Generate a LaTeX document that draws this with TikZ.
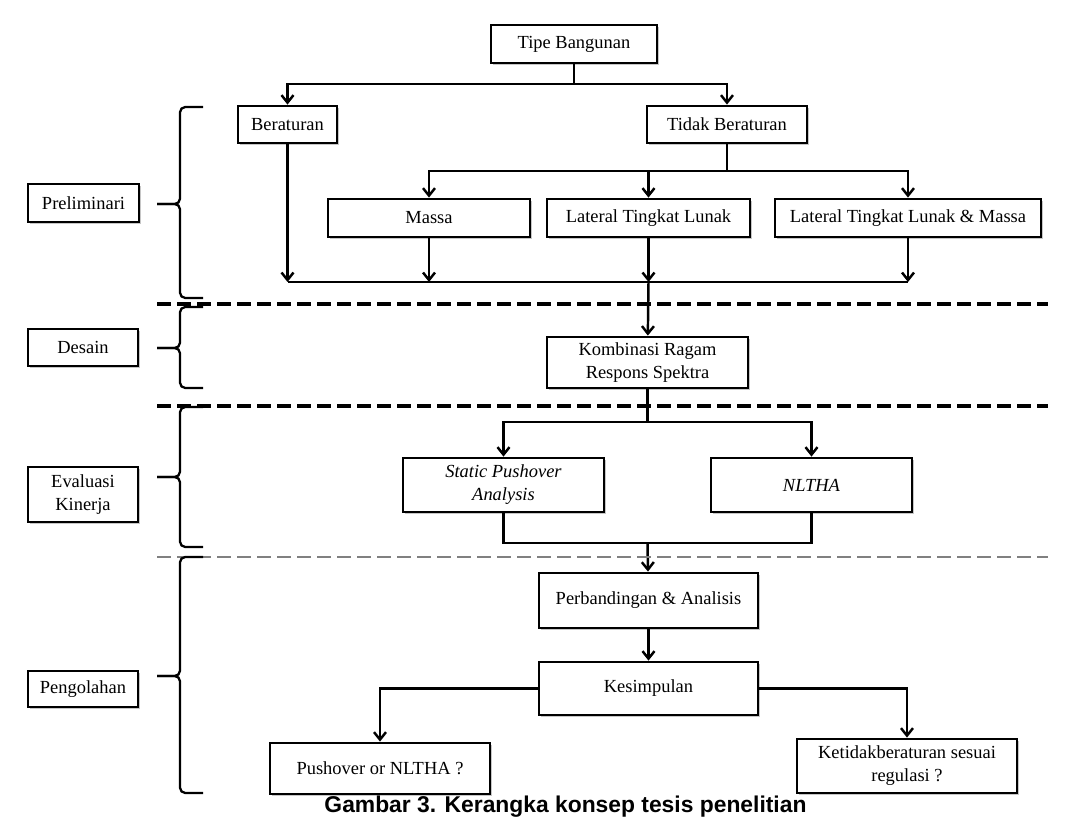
\documentclass[tikz,border=0pt]{standalone}
\usepackage{fontspec}
\setmainfont{Liberation Serif}
\newfontfamily\judulfont{Liberation Sans}
\usetikzlibrary{arrows.meta,shadows}

\begin{document}
\begin{tikzpicture}[
    kotak/.style={rectangle, draw=black, line width=1.6pt, fill=white, align=center,
      font=\fontsize{10.5}{13}\selectfont, inner sep=2pt,
      drop shadow={shadow xshift=1pt, shadow yshift=-1pt, opacity=0.45}},
    panah/.style={-{Straight Barb[length=1.5mm,width=2.4mm]}, line width=1.4pt},
    garis/.style={line width=1.4pt},
    batas/.style={line width=2pt, dash pattern=on 0.27cm off 0.13cm},
    kurung/.style={line width=1.3pt, rounded corners=3pt},
  ]
  \useasboundingbox (0,0) rectangle (21.56,16.36);

  % tahapan (kiri)
  \node[kotak, minimum width=2.22cm, minimum height=0.76cm] (prelim)   at (1.67,12.30) {Preliminari};
  \node[kotak, minimum width=2.20cm, minimum height=0.74cm] (desain)   at (1.66,9.41)  {Desain};
  \node[kotak, minimum width=2.20cm, minimum height=1.10cm] (evaluasi) at (1.66,6.47)  {Evaluasi\\Kinerja};
  \node[kotak, minimum width=2.20cm, minimum height=0.72cm] (olah)     at (1.66,2.58)  {Pengolahan};

  % alur utama
  \node[kotak, minimum width=3.32cm, minimum height=0.76cm] (tipe)       at (11.48,15.48) {Tipe Bangunan};
  \node[kotak, minimum width=1.98cm, minimum height=0.74cm] (teratur)    at (5.75,13.87)  {Beraturan};
  \node[kotak, minimum width=3.20cm, minimum height=0.74cm] (takteratur) at (14.54,13.87) {Tidak Beraturan};
  \node[kotak, minimum width=4.04cm, minimum height=0.76cm] (massa)      at (8.58,12.00)  {Massa};
  \node[kotak, minimum width=4.06cm, minimum height=0.76cm] (lateral)    at (12.97,12.00) {Lateral Tingkat Lunak};
  \node[kotak, minimum width=5.32cm, minimum height=0.76cm] (latmassa)   at (18.16,12.00) {Lateral Tingkat Lunak \& Massa};
  \node[kotak, minimum width=4.02cm, minimum height=1.02cm] (kombinasi)  at (12.95,9.11)  {Kombinasi Ragam\\Respons Spektra};
  \node[kotak, minimum width=4.02cm, minimum height=1.08cm] (pushover)   at (10.07,6.66)  {\textit{Static Pushover}\\\textit{Analysis}};
  \node[kotak, minimum width=4.02cm, minimum height=1.08cm] (nltha)      at (16.23,6.66)  {\textit{NLTHA}};
  \node[kotak, minimum width=4.38cm, minimum height=1.10cm] (banding)    at (12.97,4.35)  {Perbandingan \& Analisis};
  \node[kotak, minimum width=4.38cm, minimum height=1.06cm] (simpul)     at (12.97,2.59)  {Kesimpulan};
  \node[kotak, minimum width=4.40cm, minimum height=1.02cm] (pilihan)    at (7.60,0.99)   {Pushover or NLTHA ?};
  \node[kotak, minimum width=4.40cm, minimum height=1.08cm] (regulasi)   at (18.14,1.04)  {Ketidakberaturan sesuai\\regulasi ?};

  \node[font=\judulfont\bfseries\fontsize{13}{15}\selectfont, anchor=base] (judul) at (11.31,0.12) {Gambar 3. Kerangka konsep tesis penelitian};

  % titik cabang
  \coordinate (c1) at (11.48,14.68);
  \coordinate (c2) at (14.54,12.94);
  \coordinate (k1) at (5.75,10.72);
  \coordinate (k4) at (18.16,10.72);
  \coordinate (c3) at (12.95,7.92);
  \coordinate (g)  at (12.95,5.50);

  \draw[garis] (tipe) -- (c1);
  \draw[panah] (c1) -| (teratur);
  \draw[panah] (c1) -| (takteratur);
  \draw[garis] (takteratur) -- (c2);
  \foreach \n in {massa,lateral,latmassa}
    \draw[panah] (c2) -| (\n);
  \draw[garis] (k1) -- (k4);
  \foreach \n in {teratur,massa,lateral,latmassa}
    \draw[panah] (\n) -- (\n |- k1);
  \draw[panah] (lateral |- k1) -- (kombinasi);
  \draw[garis] (kombinasi) -- (c3);
  \draw[panah] (c3) -| (pushover);
  \draw[panah] (c3) -| (nltha);
  \draw[garis] (pushover) |- (g) -| (nltha);
  \draw[panah] (g) -- (banding);
  \draw[panah] (banding) -- (simpul);
  \draw[panah] (simpul) -| (pilihan);
  \draw[panah] (simpul) -| (regulasi);

  % garis batas tahapan
  \foreach \y in {10.28,8.24}
    \draw[batas] (3.14,\y) -- (20.96,\y);
  \draw[batas, gray, line width=1.4pt] (3.14,5.22) -- (20.96,5.22);

  % kurung kurawal
  \foreach \atas/\tengah/\bawah in {14.22/12.28/10.40, 10.22/9.40/8.60, 8.22/6.82/5.42, 5.22/2.84/0.50} {
    \draw[kurung] (4.06,\atas) -| (3.60,\tengah) -- (3.14,\tengah);
    \draw[kurung] (3.14,\tengah) -- (3.60,\tengah) |- (4.06,\bawah);
  }

\end{tikzpicture}
\end{document}
